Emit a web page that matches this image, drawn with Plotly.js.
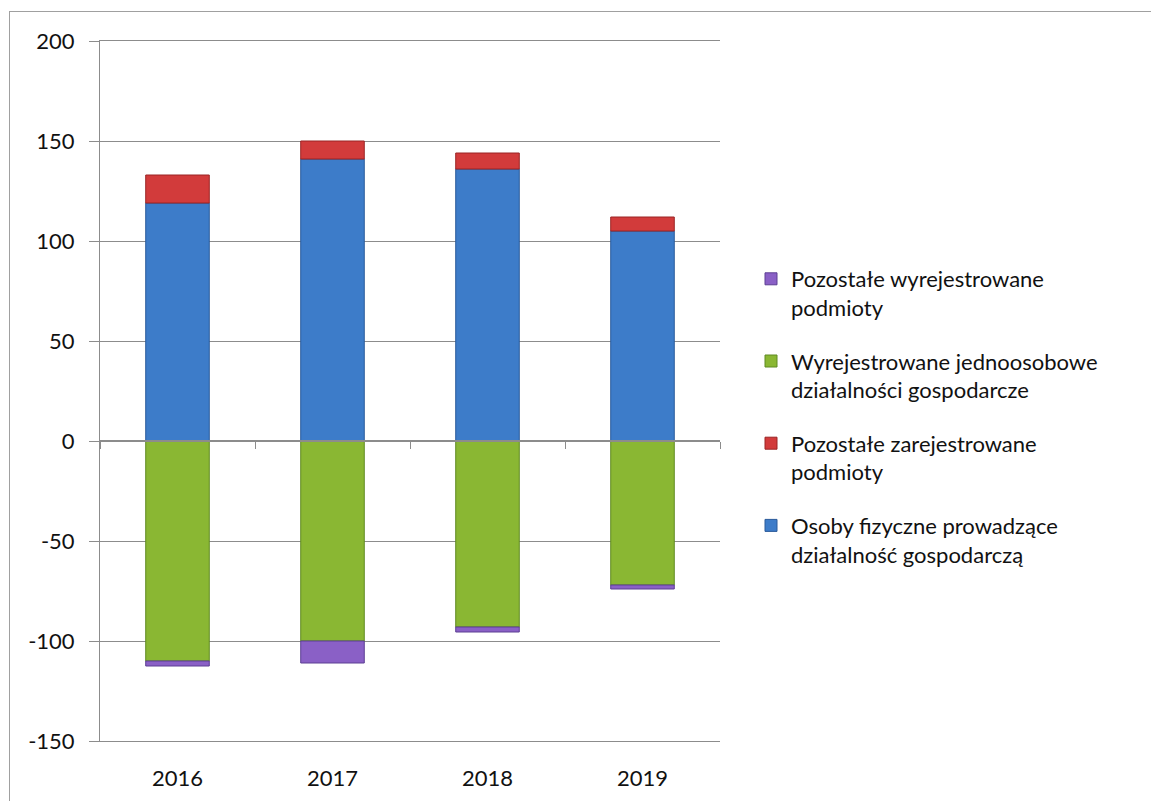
<!DOCTYPE html>
<html><head><meta charset="utf-8">
<script src="https://cdn.plot.ly/plotly-3.0.1.min.js"></script>
<style>
html,body{margin:0;padding:0;background:#fff;overflow:hidden}
#frame{position:absolute;left:9px;top:11px;width:1200px;height:850px;border:1px solid #a0a0a0;box-sizing:border-box}
#chart{position:absolute;left:0;top:0;width:1151px;height:801px}
</style></head>
<body>
<div id="frame"></div>
<div id="chart"></div>
<script>
const years = ['2016','2017','2018','2019'];
const osobyFizyczne = [119, 141, 136, 105];
const pozostaleZarej = [14, 9, 8, 7];
const wyrejJednoos = [-110, -100, -93, -72];
const pozostaleWyrej = [-2.5, -11, -2.5, -2];
const yTicks = [-150, -100, -50, 0, 50, 100, 150, 200];
const yTickText = ['-150', '-100', '-50', '0', '50', '100', '150', '200'];

const names = {
  blue: 'Osoby fizyczne prowadzące<br>działalność gospodarczą',
  red: 'Pozostałe zarejestrowane<br>podmioty',
  green: 'Wyrejestrowane jednoosobowe<br>działalności gospodarcze',
  purple: 'Pozostałe wyrejestrowane<br>podmioty'
};

function bar(y, name, color, line, grp, rank){
  return {type:'bar', x:years, y:y, name:name, legendgroup:grp, legendrank:rank,
    marker:{color:color, line:{color:line, width:1}}, hoverinfo:'y'};
}
const data = [
  bar(osobyFizyczne, names.blue, '#3d7cc9', '#2a5a9a', 'a', 4),
  bar(pozostaleZarej, names.red, '#d23b3b', '#9a2525', 'b', 3),
  bar(wyrejJednoos, names.green, '#8ab733', '#5f8a22', 'c', 2),
  bar(pozostaleWyrej, names.purple, '#8a60c6', '#5d3f93', 'd', 1),
  {type:'scatter', mode:'none', x:years, y:osobyFizyczne, xaxis:'x2', yaxis:'y', showlegend:false, hoverinfo:'skip'}
];
const fontFam = 'Lato, "Open Sans", sans-serif';
const layout = {
  width:1151, height:801,
  margin:{l:100, r:431, t:41, b:60},
  paper_bgcolor:'rgba(0,0,0,0)', plot_bgcolor:'rgba(0,0,0,0)',
  barmode:'relative', bargap:0.59,
  font:{family:fontFam, color:'#111', size:22},
  showlegend:true,
  legend:{x:1.05, xanchor:'left', y:0.69, yanchor:'top', valign:'top',
    tracegroupgap:22, font:{size:22, family:fontFam, color:'#111'}, itemwidth:30},
  xaxis:{type:'category', categoryarray:years, range:[-0.5,3.5], showline:true, mirror:true,
    linecolor:'#8c8c8c', linewidth:1, ticks:'',
    showgrid:false, zeroline:false, tickfont:{size:22}, ticklabelstandoff:18},
  xaxis2:{type:'category', categoryarray:years, range:[-0.5,3.5], overlaying:'x', anchor:'free',
    position:150/350, showline:true, linecolor:'#8c8c8c', linewidth:2, ticks:'outside', ticklen:7,
    tickcolor:'#8c8c8c', tickwidth:1, tickson:'boundaries', showticklabels:false, showgrid:false, zeroline:false},
  yaxis:{range:[-150,200], tickvals:yTicks, ticktext:yTickText, showgrid:true, gridcolor:'#8c8c8c',
    gridwidth:1, zeroline:false, showline:true, linecolor:'#8c8c8c', linewidth:1, ticks:'outside', ticklen:10,
    tickcolor:'#8c8c8c', tickfont:{size:22}, ticklabelstandoff:10}
};
Plotly.newPlot('chart', data, layout, {displayModeBar:false, staticPlot:true});
</script>
</body></html>
